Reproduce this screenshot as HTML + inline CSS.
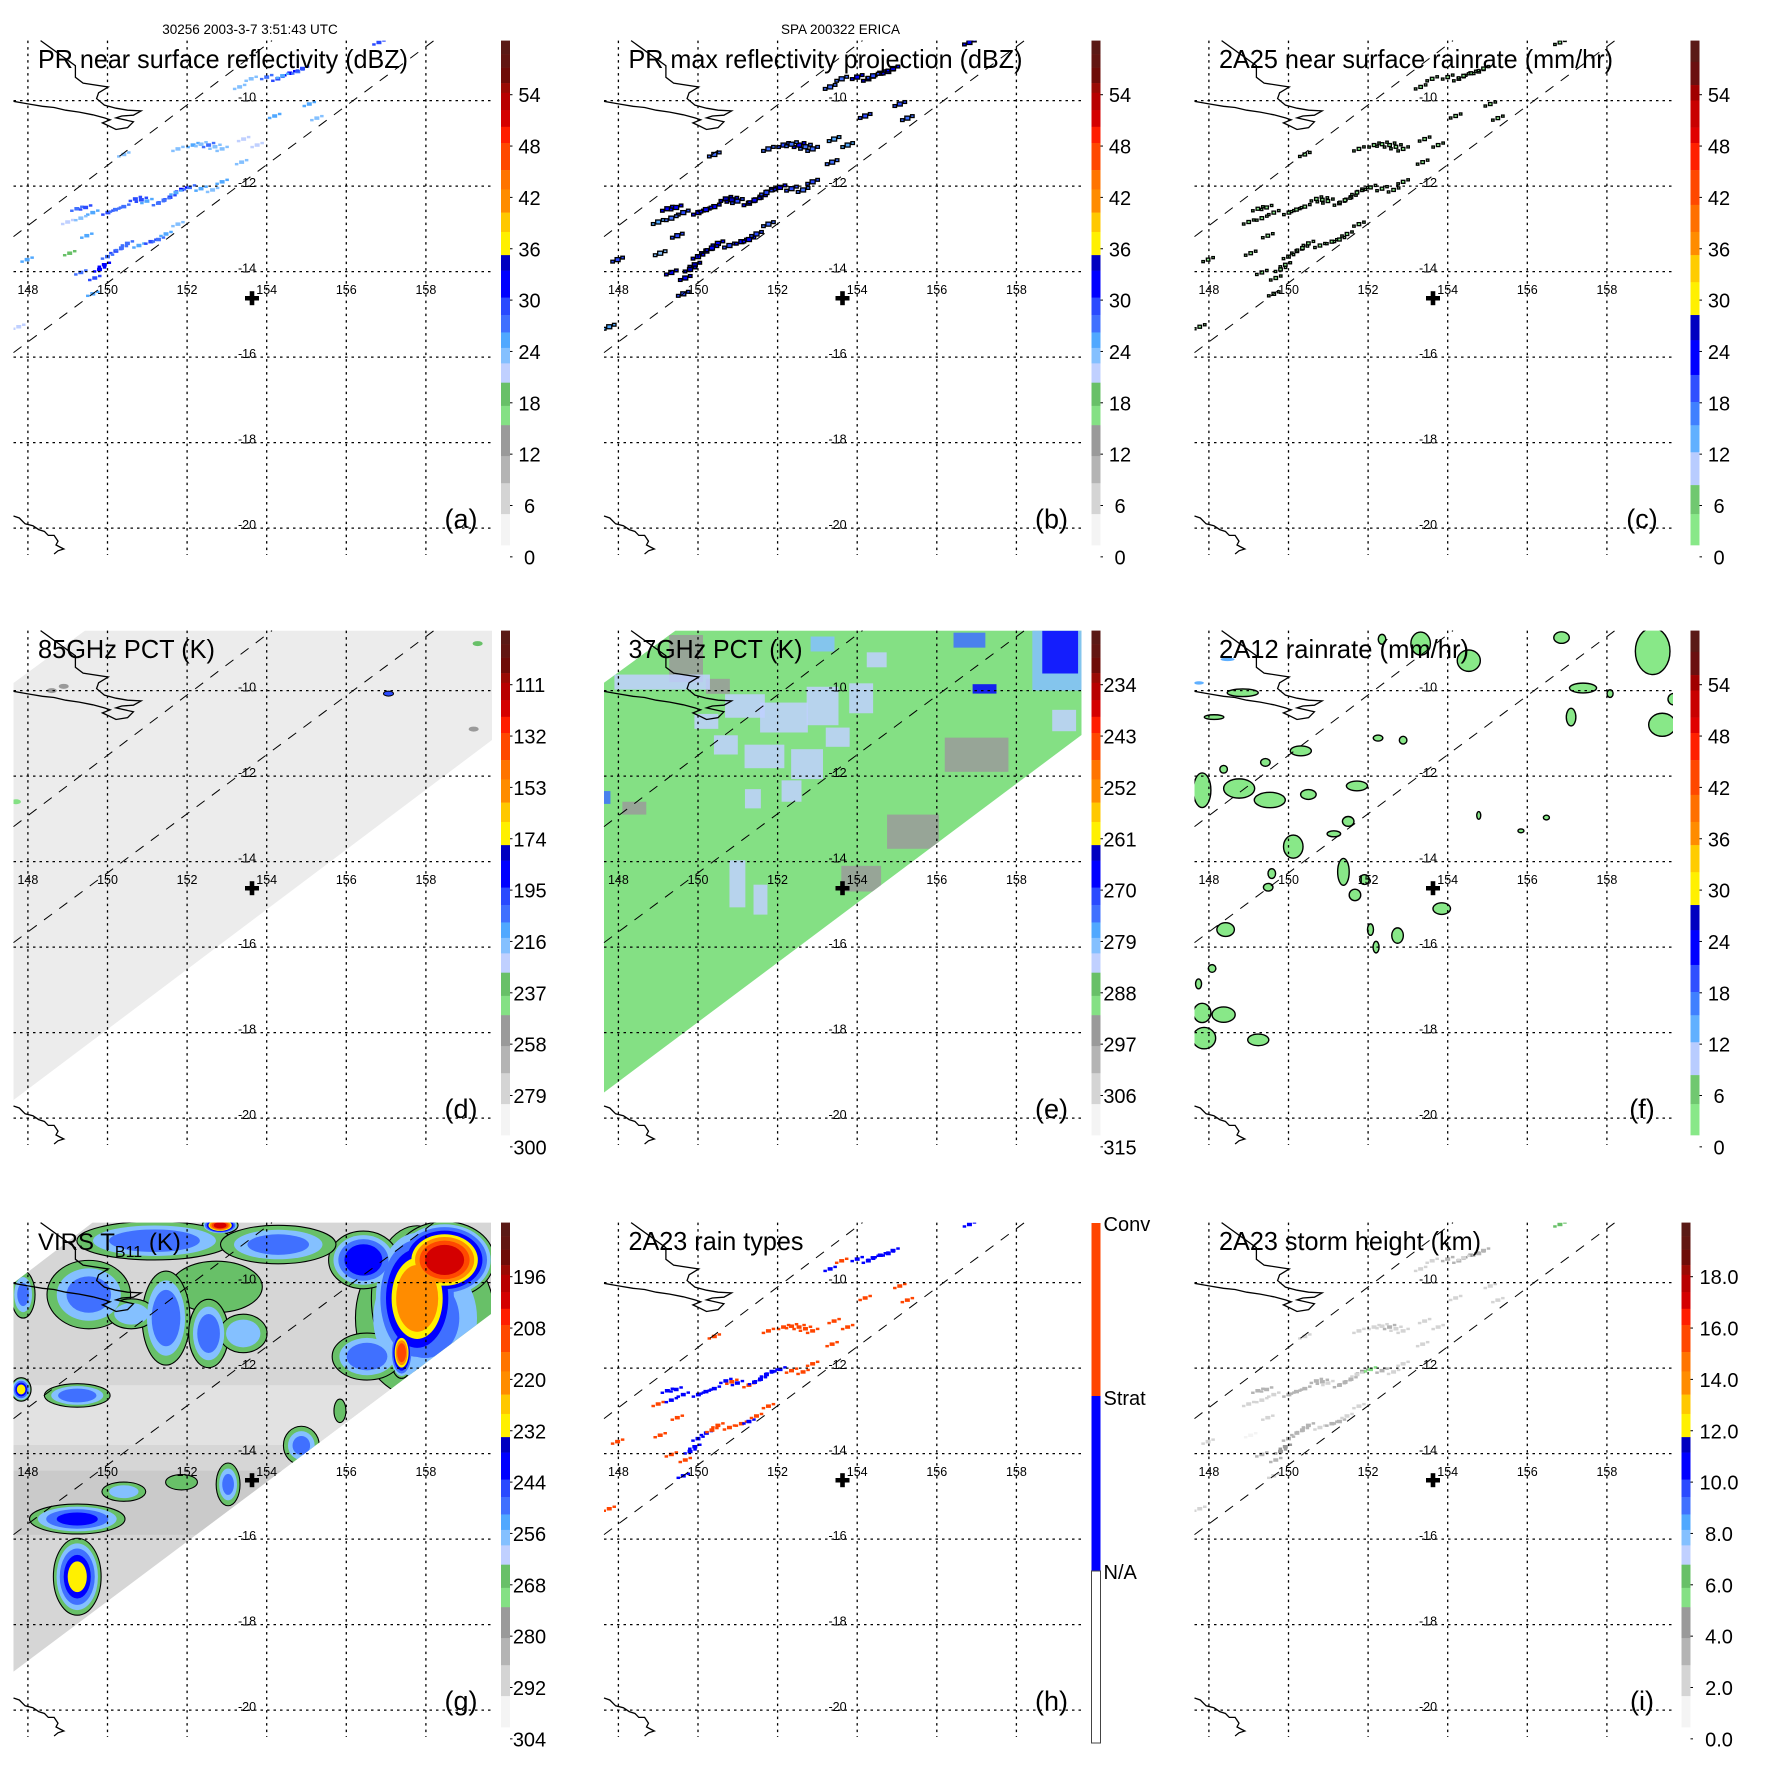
<!DOCTYPE html>
<html><head><meta charset="utf-8"><style>
html,body{margin:0;padding:0;background:#fff;}
svg{display:block;font-family:"Liberation Sans",Arial,sans-serif;}
</style></head><body>
<svg id="figure" xmlns="http://www.w3.org/2000/svg" width="1771" height="1771" viewBox="0 0 1771 1771">
<rect x="0" y="0" width="1771" height="1771" fill="#fff"/>
</svg>
<script>
const NS='http://www.w3.org/2000/svg';
const svg=document.getElementById('figure');
const COLX=[0,590.5,1181], ROWY=[0,590,1182];
const lonTicks=[148,150,152,154,156,158];
const latTicks=[-10,-12,-14,-16,-18,-20];

// PR footprint rain cells (lon, lat)
const prLon=[149.23,149.63,150.01,150.41,150.70,150.99,151.28,151.57,151.86,152.06,152.35,152.64,152.15,152.54,152.88,151.77,150.21,150.50,150.79,151.09,151.28,151.47,151.77,149.92,149.68,149.63,149.33,149.00,149.33,149.48,149.05,147.98,147.77,153.32,153.61,154.00,154.28,154.58,154.78,156.82,155.07,155.26,154.20,153.42,153.76,150.41,153.37,152.88,149.45,150.2,150.85,151.42,151.72,149.8,150.0,150.35,154.4,154.9,152.35,152.7];
const prLat=[-12.53,-12.62,-12.62,-12.48,-12.30,-12.35,-12.40,-12.26,-12.08,-12.03,-12.06,-12.09,-11.04,-11.04,-11.13,-11.13,-13.52,-13.34,-13.39,-13.30,-13.25,-13.12,-12.89,-13.84,-14.15,-14.52,-14.02,-12.84,-12.75,-13.16,-13.57,-13.72,-15.29,-9.68,-9.49,-9.45,-9.49,-9.36,-9.32,-8.64,-10.08,-10.41,-10.36,-10.90,-11.04,-11.26,-11.44,-11.90,-12.5,-12.55,-12.32,-12.33,-12.15,-13.95,-13.65,-13.45,-9.42,-9.25,-11.02,-11.08];
const reflA=[28,26,29,27,30,25,27,29,31,28,26,24,25,27,23,24,30,28,26,29,27,25,24,31,29,26,27,22,24,25,19,26,22,24,23,28,30,31,27,29,25,24,26,22,21,23,24,25,29,27,30,28,26,31,28,27,25,29,24,23];
const maxZ=[32,30,33,31,34,29,31,33,35,32,30,28,29,31,27,28,34,32,30,33,31,29,28,35,33,30,31,26,28,29,23,30,26,28,27,32,34,35,31,33,29,28,30,26,25,27,28,29,33,31,34,32,30,35,32,31,29,33,28,27];
const rainC=[2.1,1.5,2.4,1.8,3.0,1.2,1.9,2.6,3.4,2.2,1.6,1.1,1.3,1.8,0.9,1.0,3.1,2.3,1.5,2.7,1.9,1.3,1.1,3.6,2.8,1.4,1.8,0.8,1.1,1.2,0.5,1.4,0.7,1.1,1.0,2.3,3.0,3.5,1.9,2.7,1.3,1.1,1.5,0.8,0.7,0.9,1.1,1.2,2.7,1.9,3.0,2.4,1.6,3.3,2.2,1.8,1.3,2.6,1.1,1.0];
const rainType=[1,1,1,1,1,1,2,1,1,1,2,2, 2,2,2,2, 1,2,2,2,1,2,2, 1,2,1,2,2,1,2,2,2,2, 1,2,1,1,1,1,1, 2,2,2,2,2,2,2,2, 1,1,2,1,1,1,1,2,1,1,2,2];
const stormHt=[3.2,2.8,3.5,3.0,3.8,2.5,3.1,3.6,4.2,5.5,2.9,2.4,2.6,3.0,2.2,2.3,3.9,3.3,2.7,3.4,3.0,2.6,2.4,4.0,3.5,2.7,3.1,2.0,2.4,2.5,1.6,2.6,1.8,2.4,2.3,3.3,3.7,4.4,3.1,6.5,2.6,2.4,2.7,1.9,1.7,2.1,2.3,2.5,3.5,3.1,3.7,3.3,2.8,4.1,3.3,3.0,2.6,3.5,2.4,2.2];

// 85 GHz specks
const dLon=[157.06,159.3,159.2,159.3,148.6,148.9,147.7];
const dLat=[-10.07,-8.9,-10.9,-11.9,-10.0,-9.9,-12.6];
const dT=[200,237,255,255,255,255,240];

// 37 GHz patches
const eLon=[149.7,150.5,148.4,149.1,151.18,152.16,153.13,154.1,151.67,152.74,150.7,150.21,153.51,152.35,151.38,150.99,151.57,154.49,153.13,156.82,157.2,159.1,159.1,159.2,157.0,155.4,154.1,147.7];
const eLat=[-9.25,-9.9,-12.75,-9.8,-10.36,-10.63,-10.36,-10.18,-11.54,-11.72,-11.27,-10.72,-11.09,-12.35,-12.53,-14.52,-14.89,-9.28,-8.91,-8.82,-9.96,-9.2,-9.1,-10.7,-11.5,-13.3,-14.4,-12.5];
const eW=[0.85,0.6,0.6,2.4,1.0,1.2,0.8,0.6,1.0,0.8,0.6,0.6,0.6,0.5,0.4,0.4,0.35,0.5,0.6,0.8,0.6,1.4,0.9,0.6,1.6,1.3,1.0,0.2];
const eH=[1.1,0.35,0.3,0.35,0.55,0.7,0.9,0.7,0.55,0.7,0.45,0.35,0.45,0.5,0.45,1.1,0.7,0.35,0.35,0.35,0.22,1.6,1.0,0.5,0.8,0.8,0.6,0.3];
const eT=[296,296,296,283,283,283,283,283,283,283,283,283,283,283,283,283,283,283,280,275,268,280,266,282,296,296,296,275];

// 2A12 rain blobs
const fLon=[148.76,149.53,147.83,150.31,149.42,148.37,151.72,150.50,150.12,151.14,151.50,151.38,151.67,151.91,149.58,149.49,148.42,152.06,152.20,152.74,153.85,152.25,152.88,154.53,153.32,152.35,148.85,148.13,156.86,157.40,157.10,159.15,159.39,159.68,147.83,148.37,147.88,149.24,148.08,147.74,158.08,156.48,155.84,154.78,148.47,147.75];
const fLat=[-12.29,-12.56,-12.33,-11.41,-11.68,-11.84,-12.23,-12.43,-13.65,-13.35,-13.06,-14.24,-14.78,-14.42,-14.28,-14.60,-15.59,-15.59,-16.00,-15.73,-15.10,-11.11,-11.16,-9.30,-8.90,-8.80,-10.05,-10.62,-8.76,-9.94,-10.62,-9.08,-10.80,-10.20,-17.54,-17.58,-18.13,-18.17,-16.50,-16.86,-10.07,-12.97,-13.28,-12.92,-9.27,-9.82];
const fW=[0.78,0.78,0.44,0.53,0.24,0.19,0.53,0.39,0.49,0.34,0.29,0.29,0.29,0.24,0.19,0.24,0.44,0.15,0.15,0.29,0.44,0.24,0.19,0.58,0.49,0.19,0.78,0.49,0.39,0.68,0.24,0.87,0.68,0.29,0.44,0.58,0.58,0.53,0.19,0.15,0.15,0.15,0.15,0.10,0.35,0.25];
const fH=[0.45,0.36,0.81,0.23,0.18,0.18,0.23,0.23,0.54,0.14,0.23,0.63,0.27,0.23,0.23,0.18,0.32,0.27,0.27,0.36,0.27,0.14,0.18,0.50,0.54,0.23,0.18,0.11,0.27,0.23,0.41,1.09,0.54,0.27,0.45,0.36,0.50,0.27,0.18,0.23,0.18,0.11,0.09,0.18,0.08,0.08];
const fRate=[3,3,4,3,2,2,3,2,3,2,2,3,2,2,2,2,3,2,2,3,3,2,2,3,3,2,2,2,2,4,3,4,4,3,3,3,3,3,2,2,2,2,2,2,13,13];

// VIRS cloud systems
const gLon=[157.98,157.78,158.47,157.39,156.43,156.52,152.83,151.18,154.29,149.53,147.88,152.74,151.47,152.54,153.41,150.60,147.83,149.24,154.87,153.03,151.86,150.41,149.24,149.24,155.84];
const gLat=[-10.83,-10.37,-9.47,-11.64,-9.47,-11.73,-8.66,-9.02,-9.11,-10.28,-10.28,-10.10,-10.83,-11.19,-11.19,-10.73,-12.50,-12.64,-13.81,-14.72,-14.67,-14.89,-15.53,-16.88,-13.00];
const gW=[3.5,2.3,2.5,0.6,1.75,1.75,0.9,3.9,2.9,2.1,0.6,2.3,1.2,1.0,1.2,1.2,0.5,1.65,0.9,0.6,0.8,1.1,2.4,1.2,0.3];
const gH=[3.8,3.4,1.8,1.2,1.35,1.1,0.4,0.9,0.9,1.6,1.1,1.2,2.2,1.6,0.9,0.7,0.55,0.55,0.9,1.0,0.36,0.45,0.7,1.8,0.55];
const gT=[250,215,196,212,232,245,200,245,248,248,250,262,244,246,252,252,228,245,250,250,264,255,240,230,262];

const valsStd=[54,48,42,36,30,24,18,12,6,0];
const valsD=[111,132,153,174,195,216,237,258,279,300];
const valsE=[234,243,252,261,270,279,288,297,306,315];
const valsG=[196,208,220,232,244,256,268,280,292,304];
const valsI=[18,16,14,12,10,8,6,4,2,0];
const labD=valsD.map(String), labE=valsE.map(String), labG=valsG.map(String), labStd=valsStd.map(String);
const labI=['18.0','16.0','14.0','12.0','10.0','8.0','6.0','4.0','2.0','0.0'];

const STD=[[140,'#5a1a16'],[175,'#621612'],[215,'#6e0c08'],[240,'#9a0a04'],[285,'#b80000'],[328,'#d40000'],[370,'#ff1e00'],[440,'#ff4800'],[490,'#ff7400'],[550,'#ff8c00'],[600,'#ffc800'],[660,'#fff000'],[700,'#0000c0'],[770,'#0000ff'],[815,'#2a4aff'],[860,'#4070ff'],[900,'#50a8ff'],[940,'#84c0ff'],[990,'#c0d0ff'],[1050,'#68c068'],[1100,'#84e084'],[1180,'#9a9a9a'],[1250,'#b4b4b4'],[1330,'#d4d4d4'],[1410,'#f4f4f4']];
const ALT=[[160,'#5a1a16'],[220,'#6a1010'],[260,'#a00000'],[330,'#c80000'],[370,'#e00000'],[440,'#ff2000'],[530,'#ff4800'],[600,'#ff7000'],[660,'#ff8c00'],[730,'#ffcc00'],[815,'#fff000'],[880,'#0000c0'],[970,'#0000ff'],[1040,'#3050ff'],[1100,'#4080ff'],[1170,'#60b0ff'],[1255,'#b8ccff'],[1330,'#70c870'],[1410,'#88e888']];

function X(lon){return 27.9+(lon-148)*39.8;}
function Y(lat){return 100.6+(-10-lat)*42.75;}
function cbY(v,vals){return 94.7+(v-vals[0])/(vals[vals.length-1]-vals[0])*(vals.length-1)*51.35;}
function colorAt(y,stops){const zy=y*2.587;for(const s of stops){if(zy<=s[0])return s[1];}return stops[stops.length-1][1];}
function mk(tag,attrs,parent){const el=document.createElementNS(NS,tag);for(const k in attrs)el.setAttribute(k,attrs[k]);parent.appendChild(el);return el;}

const defs=mk('defs',{},svg);
const COAST1='M40.6,40.6 L75.4,65.7 L75.4,77.3 L83.1,83.1 L108.2,87 L98.6,92.8 L96.6,98.6 L104.4,105.1 L116,108.2 L127.6,110.2 L141.1,110.9 L133.4,115.2 L121.8,116 L116,117.9 L133.4,121.8 L127.6,127.6 L116,129.5 L108.2,125.6 L102.4,122.9 L110.2,119.8 L104.4,117.9 L92.8,114.8 L79.2,112.1 L65.7,110.2 L54.1,107.5 L42.5,106.3 L30.9,104.4 L19.3,102.4 L13.5,101.3';
const COAST2='M13.5,516 L19.3,518 L25.1,523.8 L32.9,525.7 L38.7,529.6 L44.5,531.5 L48.3,535.4 L54.1,535.4 L58,541.2 L56,545 L59.9,547 L63.8,549 L58,550.8 L54.1,554';
const SWATH={d:'13.5,93 85,40.6 492,40.6 492,150 13.5,510',e:'13.5,92.8 85,40.6 491,40.6 491,145 13.5,502.5',g:'13.5,101 92.8,40.4 491,40.4 491,132 13.5,489.6'};

function basePanel(p){
  const g=mk('g',{transform:`translate(${COLX[p.col]},${ROWY[p.row]})`},svg);
  
  
  const cp=mk('clipPath',{id:'clip-'+p.id},defs);
  mk('rect',{x:13.5,y:40.6,width:478.5,height:514.4},cp);
  const data=mk('g',{'clip-path':`url(#clip-${p.id})`},g);
  
  
  return {g,data};
}
function swathGroup(p,data,fill){
  const cp=mk('clipPath',{id:'swclip-'+p.id},defs);
  mk('polygon',{points:SWATH[p.id]},cp);
  const sw=mk('polygon',{points:SWATH[p.id],fill:fill},data);
  
  
  const sg=mk('g',{'clip-path':`url(#swclip-${p.id})`},data);
  
  
  return sg;
}
function overlay(p,g){
  for(const lon of lonTicks){
    const l=mk('line',{x1:X(lon),y1:40.6,x2:X(lon),y2:555,stroke:'#000','stroke-width':1.3,'stroke-dasharray':'2.5,4'},g);
    
    
  }
  for(const lat of latTicks){
    const l=mk('line',{x1:13.5,y1:Y(lat),x2:492,y2:Y(lat),stroke:'#000','stroke-width':1.3,'stroke-dasharray':'2.5,4'},g);
    
    
  }
  const s1=mk('line',{x1:13.5,y1:236.6,x2:272,y2:40.6,stroke:'#000','stroke-width':1,'stroke-dasharray':'10,9'},g);
  
  
  const s2=mk('line',{x1:13.5,y1:352.6,x2:434,y2:40.6,stroke:'#000','stroke-width':1,'stroke-dasharray':'10,9'},g);
  
  
  const c1=mk('path',{d:COAST1,fill:'none',stroke:'#000','stroke-width':1.3},g);
  
  
  const c2=mk('path',{d:COAST2,fill:'none',stroke:'#000','stroke-width':1.3},g);
  
  
  for(const lat of latTicks){
    const t=mk('text',{x:247,y:Y(lat)+1,'font-size':12.5,'text-anchor':'middle',fill:'#000'},g);
    t.textContent=String(lat);
    
    
  }
  for(const lon of lonTicks){
    const t=mk('text',{x:X(lon),y:294,'font-size':12.5,'text-anchor':'middle',fill:'#000'},g);
    t.textContent=String(lon);
    
    
  }
  const cr=mk('g',{},g);
  
  
  mk('rect',{x:245,y:296,width:14,height:4.5,fill:'#000'},cr);
  mk('rect',{x:249.7,y:291.2,width:4.6,height:14,fill:'#000'},cr);
  const tt=mk('text',{x:38,y:68,'font-size':p.id==='g'?24:26,fill:'#000'},g);
  if(p.id==='g'){
    const a=mk('tspan',{},tt);a.textContent='VIRS T';
    const b=mk('tspan',{'font-size':16,dy:7},tt);b.textContent='B11';
    const c=mk('tspan',{dy:-7},tt);c.textContent=' (K)';
  } else {
    tt.textContent=p.title;
    tt.setAttribute('textLength',p.tl);
    tt.setAttribute('lengthAdjust','spacingAndGlyphs');
  }
  
  
  if(p.header){
    const h=mk('text',{x:250,y:34,'font-size':13.5,'text-anchor':'middle',fill:'#000'},g);
    h.textContent=p.header;
    
    
  }
  const cb=mk('g',{},g);
  
  
  if(p.id==='h'){
    const segs=[[41,214,'#ff4500','Conv',49],[214,389,'#0000ff','Strat',223],[389,561,'#ffffff','N/A',397]];
    for(const s of segs){
      const r=mk('rect',{x:501,y:s[0],width:9,height:s[1]-s[0],fill:s[2],stroke:s[2]==='#ffffff'?'#444':'none','stroke-width':1},cb);
      
      
      const t=mk('text',{x:513,y:s[4],'font-size':20,fill:'#000'},cb);
      t.textContent=s[3];
      
      
    }
  } else {
    let prev=105;
    for(const s of p.cb){
      const r=mk('rect',{x:p.cbx,y:prev/2.587,width:9,height:(s[0]-prev)/2.587+0.3,fill:s[1]},cb);
      
      
      prev=s[0];
    }
    p.labels.forEach((lab,k)=>{
      const yy=94.7+k*51.35;
      const tk=mk('line',{x1:p.cbx+9,y1:yy,x2:p.cbx+11.5,y2:yy,stroke:'#000','stroke-width':1},cb);
      
      
      const t=mk('text',{x:p.labx,y:yy+7.5,'font-size':20,'text-anchor':'middle',fill:'#000'},cb);
      t.textContent=lab;
      
      
    });
  }
  const lt=mk('text',{x:461,y:528,'font-size':27,'text-anchor':'middle',fill:'#000'},g);
  lt.textContent='('+p.id+')';
  
  
}

const panels=[
 {id:'a',col:0,row:0,title:'PR near surface reflectivity (dBZ)',tl:370,cb:STD,cbx:501,labx:529.5,labels:labStd,header:'30256 2003-3-7 3:51:43 UTC'},
 {id:'b',col:1,row:0,title:'PR max reflectivity projection (dBZ)',tl:394,cb:STD,cbx:501,labx:529.5,labels:labStd,header:'SPA 200322 ERICA'},
 {id:'c',col:2,row:0,title:'2A25 near surface rainrate (mm/hr)',tl:394,cb:ALT,cbx:509.5,labx:538,labels:labStd},
 {id:'d',col:0,row:1,title:'85GHz PCT (K)',tl:177,cb:STD,cbx:501,labx:530,labels:labD},
 {id:'e',col:1,row:1,title:'37GHz PCT (K)',tl:174,cb:STD,cbx:501,labx:529.5,labels:labE},
 {id:'f',col:2,row:1,title:'2A12 rainrate (mm/hr)',tl:250,cb:ALT,cbx:509.5,labx:538,labels:labStd},
 {id:'g',col:0,row:2,title:'VIRS TB11 (K)',tl:136,cb:STD,cbx:501,labx:529.5,labels:labG},
 {id:'h',col:1,row:2,title:'2A23 rain types',tl:175,cb:STD,cbx:501,labx:529.5,labels:labStd},
 {id:'i',col:2,row:2,title:'2A23 storm height (km)',tl:262,cb:STD,cbx:500.5,labx:538,labels:labI}
];

const CLUSTER=[[0,0,1],[-5,2,0.7],[5,-2,0.7]];
function drawPR(p,data){
  for(let i=0;i<prLon.length;i++){
    const x=X(prLon[i]), y=Y(prLat[i]);
    let fill, stroke='none', sw=0, w=5, h=3.5;
    if(p.id==='a') fill=colorAt(cbY(reflA[i],valsStd),STD);
    else if(p.id==='b'){ fill=colorAt(cbY(maxZ[i],valsStd),STD); stroke='#000'; sw=1.3; w=5; h=4; }
    else if(p.id==='c'){ fill=colorAt(cbY(rainC[i],valsStd),ALT); stroke='#000'; sw=1.3; w=3.5; h=3; }
    else if(p.id==='h') fill=rainType[i]===2?'#ff4500':'#0000ff';
    else fill=colorAt(cbY(stormHt[i],valsI),STD);
    const cg=mk('g',{},data);
    
    
    for(const c of CLUSTER){
      mk('rect',{x:x+c[0]-w*c[2]/2,y:y+c[1]-h*c[2]/2,width:w*c[2],height:h*c[2],fill:fill,stroke:stroke,'stroke-width':sw},cg);
    }
  }
}

for(const p of panels){
  const {g,data}=basePanel(p);
  if(['a','b','c','h','i'].includes(p.id)) drawPR(p,data);
  if(p.id==='d'){
    const sg=swathGroup(p,data,'#ececec');
    for(let i=0;i<dLon.length;i++){
      const el=mk('ellipse',{cx:X(dLon[i]),cy:Y(dLat[i]),rx:5,ry:2.5,fill:colorAt(cbY(dT[i],valsD),STD),stroke:dT[i]<220?'#000':'none','stroke-width':1},sg);
      
      
    }
  }
  if(p.id==='e'){
    const sg=swathGroup(p,data,'#84e084');
    for(let i=0;i<eLon.length;i++){
      const w=eW[i]*39.8, h=eH[i]*42.75;
      const el=mk('rect',{x:X(eLon[i])-w/2,y:Y(eLat[i])-h/2,width:w,height:h,fill:colorAt(cbY(eT[i],valsE),STD),opacity:0.85},sg);
      
      
    }
  }
  if(p.id==='f'){
    for(let i=0;i<fLon.length;i++){
      const el=mk('ellipse',{cx:X(fLon[i]),cy:Y(fLat[i]),rx:fW[i]*39.8/2,ry:fH[i]*42.75/2,fill:colorAt(cbY(fRate[i],valsStd),ALT),stroke:fRate[i]>10?'none':'#000','stroke-width':1.4},data);
      
      
    }
  }
  if(p.id==='g'){
    const sg=swathGroup(p,data,'#d6d6d6');
    const b1=mk('rect',{x:13.5,y:Y(-14.4),width:480,height:Y(-15.9)-Y(-14.4),fill:'#c4c4c4',opacity:0.7},sg);
    
    
    const b2=mk('rect',{x:13.5,y:Y(-12.4),width:480,height:Y(-13.8)-Y(-12.4),fill:'#e2e2e2'},sg);
    
    
    const levels=[266,258,250,240,230,222,212,200];
    levels.forEach((lv,li)=>{
      for(let i=0;i<gLon.length;i++){
        if(gT[i]>lv) continue;
        const sc=1-0.7*(266-lv)/(266-gT[i]+6);
        const el=mk('ellipse',{cx:X(gLon[i]),cy:Y(gLat[i]),rx:gW[i]*39.8/2*sc,ry:gH[i]*42.75/2*sc,fill:colorAt(cbY(lv,valsG),STD),stroke:li===0?'#000':'none','stroke-width':1.1},sg);
        
        
      }
    });
  }
  overlay(p,g);
}
</script>
</body></html>
